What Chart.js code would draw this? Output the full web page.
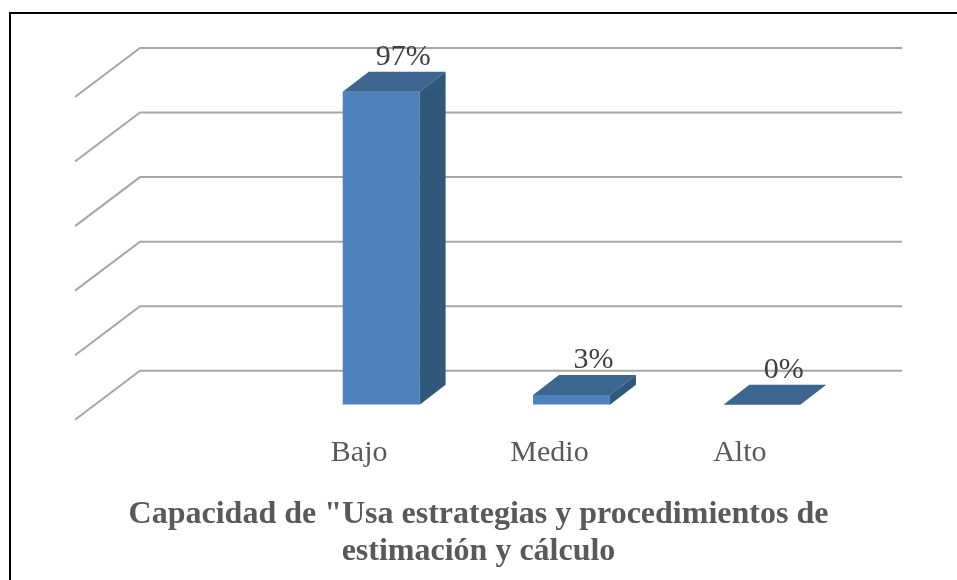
<!DOCTYPE html>
<html>
<head>
<meta charset="utf-8">
<script src="https://cdn.jsdelivr.net/npm/chart.js@4.4.1/dist/chart.umd.min.js"></script>
<style>
  body { margin: 0; background: #fff; }
  #wrap { position: relative; width: 957px; height: 580px; }
  #frame { position: absolute; left: 9px; top: 12px; right: 0; bottom: 0;
           border-top: 2px solid #000; border-left: 2px solid #000; pointer-events: none; }
</style>
</head>
<body>
<div id="wrap">
  <canvas id="chart" width="957" height="580"></canvas>
  <div id="frame"></div>
</div>
<script>
const categories = ['Bajo', 'Medio', 'Alto'];
const percentages = [97, 3, 0];
const titleLines = ['Capacidad de "Usa estrategias y procedimientos de', 'estimación y cálculo'];

const serif = '"Liberation Serif", "Times New Roman", serif';
const depth = { dx: 26, dy: -20 };

// back wall + floor gridlines, 3D style
const wallPlugin = {
  id: 'wall',
  beforeDatasetsDraw(chart) {
    const ctx = chart.ctx;
    const y = chart.scales.y;
    ctx.save();
    ctx.strokeStyle = '#a6a6a6';
    ctx.lineWidth = 2;
    y.ticks.forEach(t => {
      const p = y.getPixelForValue(t.value);
      ctx.beginPath();
      ctx.moveTo(75, p + 15);
      ctx.lineTo(140, p - 34);
      ctx.lineTo(902, p - 34);
      ctx.stroke();
    });
    ctx.restore();
  },
  afterDatasetsDraw(chart) {
    const ctx = chart.ctx;
    const meta = chart.getDatasetMeta(0);
    ctx.save();
    meta.data.forEach((bar, i) => {
      const l = bar.x - bar.width / 2;
      const r = bar.x + bar.width / 2;
      const top = bar.y;
      const base = bar.base;
      // top face
      ctx.fillStyle = '#3c6690';
      ctx.beginPath();
      ctx.moveTo(l, top);
      ctx.lineTo(r, top);
      ctx.lineTo(r + depth.dx, top + depth.dy);
      ctx.lineTo(l + depth.dx, top + depth.dy);
      ctx.closePath();
      ctx.fill();
      // side face
      if (base - top > 0.5) {
        ctx.fillStyle = '#30587b';
        ctx.beginPath();
        ctx.moveTo(r, top);
        ctx.lineTo(r + depth.dx, top + depth.dy);
        ctx.lineTo(r + depth.dx, base + depth.dy);
        ctx.lineTo(r, base);
        ctx.closePath();
        ctx.fill();
      }
      // value label
      ctx.fillStyle = '#404040';
      ctx.font = '30px ' + serif;
      ctx.textAlign = 'center';
      ctx.textBaseline = 'alphabetic';
      ctx.fillText(percentages[i] + '%', bar.x + 22, top - 27);
    });
    ctx.restore();
  }
};

new Chart(document.getElementById('chart'), {
  type: 'bar',
  data: {
    labels: categories,
    datasets: [{
      data: percentages,
      backgroundColor: '#4f81bd',
      borderWidth: 0,
      barPercentage: 0.404,
      categoryPercentage: 1
    }]
  },
  options: {
    responsive: false,
    animation: false,
    layout: { padding: { top: 82, bottom: 9.5, left: 0, right: 0 } },
    plugins: {
      legend: { display: false },
      tooltip: { enabled: false },
      title: {
        display: true,
        position: 'bottom',
        text: titleLines,
        color: '#595959',
        font: { family: serif, size: 32, weight: 'bold', lineHeight: 1.16 },
        padding: { top: 11.5, bottom: 0 }
      }
    },
    scales: {
      x: {
        grid: { display: false, drawTicks: false },
        border: { display: false },
        ticks: {
          color: '#595959',
          font: { family: serif, size: 30 },
          padding: 30,
          labelOffset: -22,
          maxRotation: 0
        },
        afterFit(axis) { axis.height = 80; }
      },
      y: {
        min: 0,
        max: 100,
        ticks: { stepSize: 20, display: false },
        grid: { display: false },
        border: { display: false },
        afterFit(axis) { axis.width = 286; }
      },
      yRight: {
        position: 'right',
        ticks: { display: false },
        grid: { display: false },
        border: { display: false },
        afterFit(axis) { axis.width = 100; }
      }
    }
  },
  plugins: [wallPlugin]
});
</script>
</body>
</html>
